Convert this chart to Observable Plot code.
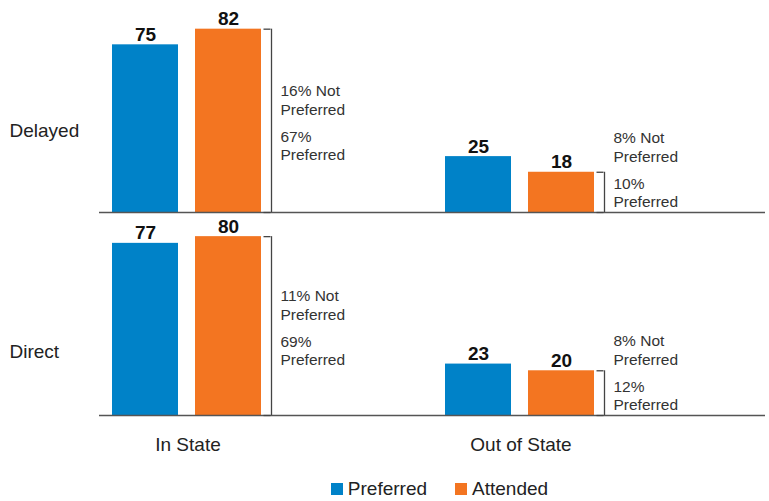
<!DOCTYPE html>
<html><head><meta charset="utf-8">
<script src="https://cdn.jsdelivr.net/npm/d3@7"></script>
<script src="https://cdn.jsdelivr.net/npm/@observablehq/plot@0.6"></script>
<style>
body{margin:0;background:#fff;width:769px;font-family:"Liberation Sans",Arial,sans-serif;}
#chart svg{display:block}
#legend{width:769px;padding-left:110px;box-sizing:border-box;margin-top:2px;}
#legend .lg-swatches{justify-content:center !important;}
#legend .lg-swatch{margin:0 14px !important;color:#222;}
#legend .lg-swatch > svg{margin-right:5px !important;}
</style></head><body><div id="chart"></div><div id="legend"></div>
<script>
// Data (order: Delayed/In State, Delayed/Out of State, Direct/In State, Direct/Out of State)
const timings = ["Delayed", "Direct"];
const locations = ["In State", "Out of State"];
const series = ["Preferred", "Attended"];
const colors = ["#0082C8", "#F37521"];
const preferredValues = [75, 25, 77, 23];
const attendedValues = [82, 18, 80, 20];
const notPreferredPct = [16, 8, 11, 8];
const preferredPct = [67, 10, 69, 12];

const cells = [];
timings.forEach((t, ti) => locations.forEach((l, li) => {
  const k = ti * 2 + li;
  cells.push({timing: t, location: l, preferred: preferredValues[k], attended: attendedValues[k],
    np: notPreferredPct[k], p: preferredPct[k]});
}));
const bars = cells.flatMap(c => [
  {timing: c.timing, location: c.location, series: series[0], value: c.preferred},
  {timing: c.timing, location: c.location, series: series[1], value: c.attended}
]);
const notes = cells.map(c => ({...c, series: series[1], mid: Math.max(c.attended / 2, 20)}));
const ticks = cells.flatMap(c => [
  {timing: c.timing, location: c.location, series: series[1], v: c.attended},
  {timing: c.timing, location: c.location, series: series[1], v: 0}
]);

const font = '"Liberation Sans", Arial, sans-serif';
const chart = Plot.plot({
  width: 769, height: 470,
  marginLeft: 98, marginRight: 4, marginTop: 9, marginBottom: 55,
  style: {fontFamily: font, background: "#fff", overflow: "visible", color: "#222"},
  fx: {domain: locations, paddingInner: 0, paddingOuter: 0, label: null},
  fy: {domain: timings, paddingInner: 0, paddingOuter: 0, label: null, axis: null},
  x: {domain: series, paddingInner: 0.2024, paddingOuter: 1.0865, align: 0.0712, axis: null},
  y: {domain: [0, 90.8], axis: null},
  color: {domain: series, range: colors},
  marks: [
    Plot.barY(bars, {fx: "location", fy: "timing", x: "series", y: "value", fill: "series"}),
    Plot.text(bars, {fx: "location", fy: "timing", x: "series", y: "value", text: d => String(d.value),
      lineAnchor: "bottom", dy: -4, fontWeight: "bold", fontSize: 19, fill: "#111"}),
    Plot.ruleY([0], {stroke: "#555", strokeWidth: 1.5}),
    Plot.ruleX(cells, {fx: "location", fy: "timing", x: () => series[1], y1: 0, y2: "attended",
      dx: 43, stroke: "#444", strokeWidth: 1.3}),
    Plot.tickY(ticks, {fx: "location", fy: "timing", x: "series", y: "v", dx: 68.5,
      insetLeft: 0, insetRight: 59, stroke: "#444", strokeWidth: 1.3}),
    Plot.text(notes, {fx: "location", fy: "timing", x: "series", y: "mid",
      text: d => `${d.np}% Not\nPreferred`, textAnchor: "start", lineAnchor: "bottom",
      dx: 52, dy: -6, fontSize: 15.5, lineHeight: 1.2, fill: "#333"}),
    Plot.text(notes, {fx: "location", fy: "timing", x: "series", y: "mid",
      text: d => `${d.p}%\nPreferred`, textAnchor: "start", lineAnchor: "top",
      dx: 52, dy: 7.5, fontSize: 15.5, lineHeight: 1.2, fill: "#333"}),
    Plot.text([timings[0]], {fx: () => locations[0], fy: d => d, text: d => d, frameAnchor: "left",
      textAnchor: "start", dx: -90, dy: 20, fontSize: 19, fill: "#222"}),
    Plot.text([timings[1]], {fx: () => locations[0], fy: d => d, text: d => d, frameAnchor: "left",
      textAnchor: "start", dx: -90, dy: 38, fontSize: 19, fill: "#222"}),
    Plot.axisFx({anchor: "bottom", tickSize: 0, tickPadding: 22, fontSize: 19, dx: -78, label: null, fill: "#222"})
  ]
});
document.getElementById("chart").appendChild(chart);

const legend = Plot.legend({color: {domain: series, range: colors}, swatchSize: 12, className: "lg",
  style: {fontSize: "19px", fontFamily: font}});
document.getElementById("legend").appendChild(legend);
</script></body></html>
